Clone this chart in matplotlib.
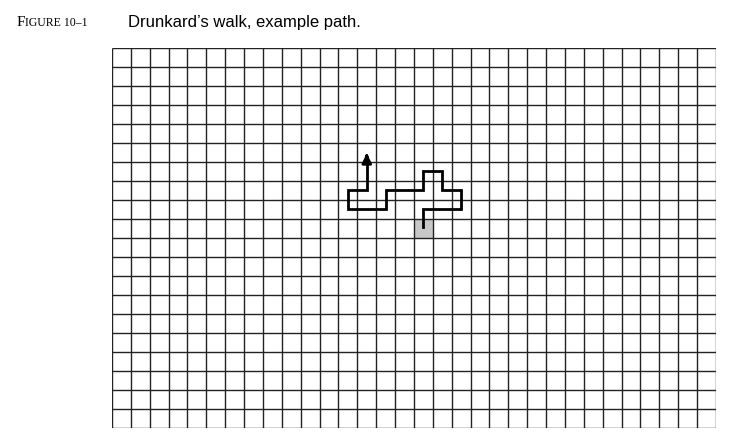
import matplotlib.pyplot as plt
from matplotlib.patches import Rectangle

# grid size (cells)
n_cols = 32
n_rows = 20

# walk path in cell units (x from left, y from top)
path_x = [16.5, 16.5, 18.5, 18.5, 17.5, 17.5, 16.5, 16.5, 14.5, 14.5, 12.5, 12.5, 13.5, 13.5]
path_y = [9.4, 8.5, 8.5, 7.5, 7.5, 6.5, 6.5, 7.5, 7.5, 8.5, 8.5, 7.5, 7.5, 5.75]
start_cell = (16, 9)
arrow_tip = (13.5, 5.4)

fig = plt.figure(figsize=(7.45, 4.42), dpi=100)
ax = fig.add_axes([0.1503, 0.0317, 0.8107, 0.8597])
ax.set_xlim(0, n_cols)
ax.set_ylim(n_rows, 0)
ax.axis("off")

ax.add_patch(Rectangle(start_cell, 1, 1, facecolor="#c8c8c8", edgecolor="none", zorder=1))
ax.vlines(range(n_cols + 1), 0, n_rows, color="#222222", lw=1.0, zorder=2)
ax.hlines(range(n_rows + 1), 0, n_cols, color="#222222", lw=1.0, zorder=2)

ax.plot(path_x, path_y, color="black", lw=2.0, solid_joinstyle="miter", zorder=3)
ax.annotate("", xy=arrow_tip, xytext=(path_x[-1], path_y[-1] + 0.1),
            arrowprops=dict(arrowstyle="-|>", color="black", lw=2.0, mutation_scale=14),
            zorder=4)

fig.text(0.022, 0.948, "F", fontsize=11, fontfamily="Liberation Serif", va="center")
fig.text(0.0335, 0.948, "IGURE 10–1", fontsize=8.5, fontfamily="Liberation Serif", va="center")
fig.text(0.172, 0.948, "Drunkard’s walk, example path.", fontsize=12,
         fontfamily="Liberation Sans", va="center")

fig.savefig("out.png", dpi=100)
